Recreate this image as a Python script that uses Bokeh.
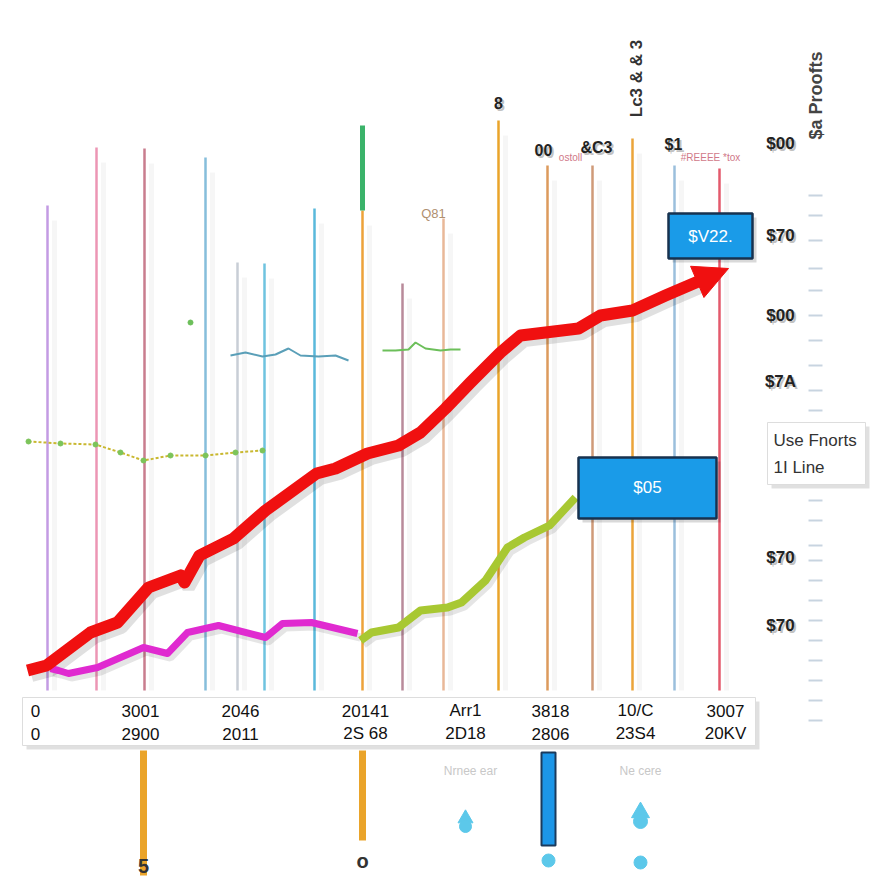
from bokeh.plotting import figure
from bokeh.models import Range1d, Arrow, NormalHead
from bokeh.core.properties import value
from bokeh.embed import file_html
from bokeh.resources import INLINE
import math

# ---------------- data (x = timeline position, y = value above baseline) ----------------
red_x = [27, 46, 90, 117, 148, 180, 184, 199, 233, 265, 316, 335, 367, 398, 420, 445, 470, 500, 520, 545, 578, 600, 632, 665, 700]
red_y = [20, 25, 58, 68, 103, 115, 108, 135, 152, 180, 217, 222, 237, 245, 258, 282, 308, 338, 355, 358, 362, 375, 380, 395, 410]
red_tip = (728, 422)

mag_x = [50, 58, 68, 97, 143, 167, 187, 218, 265, 282, 311, 357]
mag_y = [22, 20, 17, 23, 43, 37, 58, 65, 53, 67, 68, 57]

lime_x = [360, 371, 398, 420, 447, 461, 485, 507, 524, 549, 575]
lime_y = [50, 58, 63, 80, 83, 88, 110, 143, 153, 165, 193]

dot_x = [28, 60, 95, 120, 143, 170, 205, 235, 262]
dot_y = [249, 247, 246, 238, 230, 235, 235, 238, 240]

wave_x = [230, 245, 262, 275, 288, 300, 318, 335, 348]
wave_y = [335, 338, 334, 336, 342, 335, 334, 335, 330]

gwave_x = [382, 395, 408, 415, 425, 440, 450, 460]
gwave_y = [340, 340, 341, 348, 342, 340, 341, 341]

spike_x = [47, 96, 144, 205, 237, 264, 314, 362, 402, 443, 498, 547, 592, 632, 674, 719]
spike_top = [485, 543, 542, 533, 428, 427, 482, 480, 407, 472, 570, 525, 525, 552, 525, 522]
spike_col = ["#c39be3", "#ec96b4", "#c97d8e", "#86bedb", "#c8ced6", "#6fc3df", "#5ab9db", "#eda23a",
             "#b88a9a", "#e9b898", "#eaa42a", "#dc9a5c", "#cf9a78", "#eba43a", "#9bbfdc", "#e35a6c"]

tick_x = [35, 140, 240, 365, 465, 550, 635, 725]
tick_row1 = ["0", "3001", "2046", "20141", "Arr1", "3818", "10/C", "3007"]
tick_row2 = ["0", "2900", "2011", "2S 68", "2D18", "2806", "23S4", "20KV"]

right_y = [547, 455, 375, 309, 133, 65]
right_lab = ["$00", "$70", "$00", "$7A", "$70", "$70"]

top_lab_x = [498, 543, 596, 673]
top_lab_y = [582, 535, 535, 538]
top_lab = ["8", "00", "&C3", "$1"]

note_x = [570, 710]
note_y = [533, 533]
note_lab = ["ostoll", "#REEEE *tox"]

minor_tick_y = [495, 475, 450, 422, 400, 375, 350, 325, 300, 280, 190, 170, 145, 130, 110, 90, 70, 50, 30, 10, -10, -30]

W, H = 880, 880
p = figure(width=W, height=H, x_range=Range1d(0, 880), y_range=Range1d(-190, 690),
           output_backend="svg", toolbar_location=None, min_border=0)
p.axis.visible = False
p.grid.visible = False
p.outline_line_color = None
p.background_fill_color = "white"
p.border_fill_color = "white"

FONT = value("Liberation Sans")

# spikes with soft shadows
zeros = [0] * len(spike_x)
p.segment([x + 7 for x in spike_x], zeros, [x + 7 for x in spike_x], [t - 15 for t in spike_top],
          line_color="#000000", line_alpha=0.035, line_width=5)
p.segment(spike_x, zeros, spike_x, spike_top, line_color=spike_col, line_width=2.5)
# green top on the orange spike
p.segment([spike_x[7]], [spike_top[7]], [spike_x[7]], [565], line_color="#3bb36a", line_width=5)

# small decorative series
p.line(dot_x, dot_y, line_color="#c9b830", line_width=2, line_dash="3 2")
p.scatter(dot_x, dot_y, size=5, color="#7cc45a")
p.line(wave_x, wave_y, line_color="#5a9fb8", line_width=2)
p.line(gwave_x, gwave_y, line_color="#6cbf5a", line_width=2)
p.scatter([190], [368], size=5, color="#6cbf5a")

# main lines with shadows
p.line([x + 4 for x in red_x], [y - 5 for y in red_y], line_color="#000000", line_alpha=0.12, line_width=13)
p.line([x + 3 for x in mag_x], [y - 4 for y in mag_y], line_color="#000000", line_alpha=0.1, line_width=8)
p.line([x + 3 for x in lime_x], [y - 4 for y in lime_y], line_color="#000000", line_alpha=0.1, line_width=8)
p.line(mag_x, mag_y, line_color="#e02ad0", line_width=7, line_join="round")
p.line(lime_x, lime_y, line_color="#a8c832", line_width=8, line_join="round")
p.line(red_x, red_y, line_color="#f01010", line_width=12, line_join="round")
p.add_layout(Arrow(end=NormalHead(size=34, fill_color="#f01010", line_color="#f01010"),
                   x_start=red_x[-1], y_start=red_y[-1], x_end=red_tip[0], y_end=red_tip[1],
                   line_color="#f01010", line_width=12))

# x-axis label box
p.quad(left=[26], right=[759], top=[-11], bottom=[-59], fill_color="#000000", fill_alpha=0.12, line_color=None)
p.quad(left=[22], right=[755], top=[-7], bottom=[-55], fill_color="white", line_color="#dddddd")
p.text(tick_x, [-20] * len(tick_x), text=tick_row1, text_font=FONT, text_font_size="17px",
       text_align="center", text_baseline="middle", text_color="#111111")
p.text(tick_x, [-43] * len(tick_x), text=tick_row2, text_font=FONT, text_font_size="17px",
       text_align="center", text_baseline="middle", text_color="#111111")

# bars and drops below the axis
p.segment([143, 362], [-60, -60], [143, 362], [-185, -150], line_color="#eaa42a", line_width=7)
p.quad(left=[541], right=[555], top=[-62], bottom=[-155], fill_color="#1c96e8", line_color="#1b3a5c", line_width=2)
p.scatter([465, 640], [-128, -122], marker="triangle", size=[15, 18], color="#5cc8ea")
p.scatter([465, 640], [-136, -131], size=[12, 14], color="#5cc8ea")
p.scatter([548, 640], [-170, -172], size=13, color="#5cc8ea")
p.text([143, 362], [-175, -170], text=["5", "o"], text_font=FONT, text_font_size="20px",
       text_font_style="bold", text_align="center", text_baseline="middle", text_color="#333333")
p.text([470, 640], [-80, -80], text=["Nrnee ear", "Ne cere"], text_font=FONT, text_font_size="12px",
       text_align="center", text_baseline="middle", text_color="#c8c8c8")

# labels at spike tops
p.text([x + 2 for x in top_lab_x], [y - 2 for y in top_lab_y], text=top_lab, text_font=FONT,
       text_font_size="16px", text_font_style="bold", text_align="center", text_baseline="bottom",
       text_color="#999999", text_alpha=0.6)
p.text(top_lab_x, top_lab_y, text=top_lab, text_font=FONT, text_font_size="16px", text_font_style="bold",
       text_align="center", text_baseline="bottom", text_color="#222222")
p.text([433], [470], text=["Q81"], text_font=FONT, text_font_size="13px", text_align="center",
       text_baseline="bottom", text_color="#b09070")
p.text(note_x, note_y, text=note_lab, text_font=FONT, text_font_size="10px",
       text_align="center", text_baseline="middle", text_color="#d07888")
p.text([636], [612], text=["Lc3 & & 3"], angle=math.pi / 2, text_font=FONT, text_font_size="17px",
       text_font_style="bold", text_align="center", text_baseline="middle", text_color="#333333")

# right-hand value labels
p.text([782] * len(right_y), [y - 2 for y in right_y], text=right_lab, text_font=FONT, text_font_size="17px",
       text_font_style="bold", text_align="center", text_baseline="middle", text_color="#999999", text_alpha=0.6)
p.text([780] * len(right_y), right_y, text=right_lab, text_font=FONT, text_font_size="17px", text_font_style="bold",
       text_align="center", text_baseline="middle", text_color="#222222")
p.text([815], [595], text=["$a Proofts"], angle=math.pi / 2, text_font=FONT, text_font_size="18px",
       text_font_style="bold", text_align="center", text_baseline="middle", text_color="#444444")
p.segment([808] * len(minor_tick_y), minor_tick_y, [822] * len(minor_tick_y), minor_tick_y,
          line_color="#c8d4e0", line_width=2)

# blue annotation boxes
p.quad(left=[672, 582], right=[756, 720], top=[473, 229], bottom=[428, 168], fill_color="#000000",
       fill_alpha=0.15, line_color=None)
p.quad(left=[668, 578], right=[752, 716], top=[477, 233], bottom=[432, 172], fill_color="#1a9be8",
       line_color="#17324f", line_width=2.5)
p.text([710, 647], [454, 203], text=["$V22.", "$05"], text_font=FONT, text_font_size="17px",
       text_align="center", text_baseline="middle", text_color="white")

# legend box
p.quad(left=[771], right=[869], top=[264], bottom=[202], fill_color="#000000", fill_alpha=0.12, line_color=None)
p.quad(left=[767], right=[865], top=[268], bottom=[206], fill_color="white", line_color="#dddddd")
p.text([773, 773], [250, 223], text=["Use Fnorts", "1I Line"], text_font=FONT, text_font_size="17px",
       text_align="left", text_baseline="middle", text_color="#333333")

open("out.html", "w").write(file_html(p, INLINE))
